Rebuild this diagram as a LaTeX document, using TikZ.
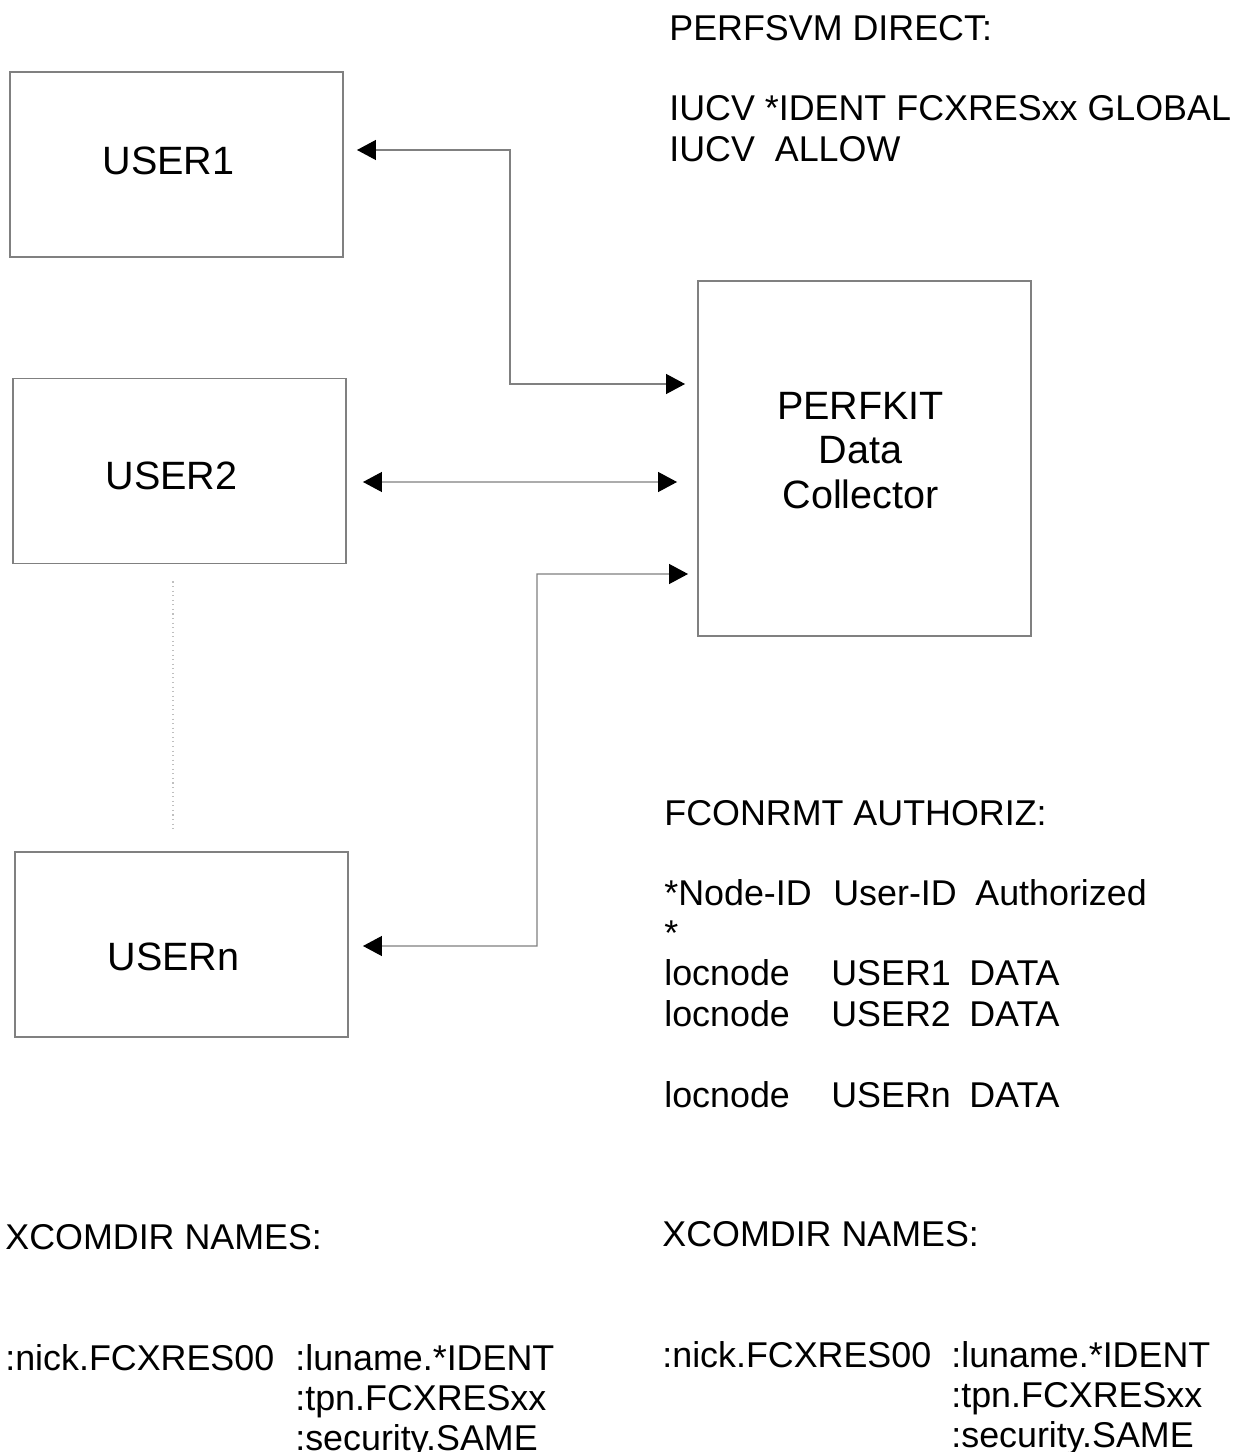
\documentclass[tikz,border=0pt]{standalone}
\usepackage{fontspec}
\setmainfont{Liberation Sans}
\usetikzlibrary{arrows.meta,calc,positioning}

\tikzset{
	userbox/.style={rectangle, draw=gray, line width=0.7pt, outer sep=0pt,
		minimum width=6.66cm, minimum height=3.7cm},
	boxlabel/.style={font=\fontsize{22.5}{25.5}\selectfont},
	txt/.style={anchor=base west, inner sep=0pt, font=\fontsize{20.4}{24}\selectfont},
	link/.style={draw=gray, line width=0.7pt,
		{Triangle[length=0.38cm,width=0.4cm,black]}-{Triangle[length=0.38cm,width=0.4cm,black]}}
}

\begin{document}
\begin{tikzpicture}[x=0.02cm, y=-0.02cm]
		\useasboundingbox (0,0) rectangle (1248,1452);

		% user boxes and the collector
		\node[userbox] (user1) at (176.5,164.5) {};
		\node[userbox] (user2) at (179.5,471) {};
		\node[userbox] (usern) at (181.5,944.5) {};
		\node[userbox, minimum height=7.1cm] (perfkit) at (864.5,458.5) {};
		\node[boxlabel] (l1) at ($(user1)+(-8,-4)$) {USER1};
		\node[boxlabel] (l2) at ($(user2)+(-8,5)$) {USER2};
		\node[boxlabel] (ln) at ($(usern)+(-8,12)$) {USERn};
		\node[boxlabel, align=center] (lk) at ($(perfkit)+(-4,-8)$) {PERFKIT\\Data\\Collector};

		\draw[dotted, gray!50, line width=0.6pt] ($(user2.south)+(-6.5,18)$) -- ($(usern.north)+(-8.5,-20)$);

		% connector ends
		\coordinate (t1a) at ($(user1.east)+(14,-14.5)$);
		\coordinate (t1b) at ($(perfkit.west)+(-13,-74.5)$);
		\coordinate (t2a) at ($(user2.east)+(17,11)$);
		\coordinate (t2b) at ($(perfkit.west)+(-21,23.5)$);
		\coordinate (t3a) at ($(usern.east)+(15,1.5)$);
		\coordinate (t3b) at ($(perfkit.west)+(-10,115.5)$);

		\draw[link] (t1a) -- (510,150) |- (t1b);
		\draw[link] (t2a) -- (t2b);
		\draw[link] (t3a) -- (537,946) |- (t3b);

		% PERFSVM directory
		\node[txt] (direct) at (669,41) {PERFSVM DIRECT:};
		\node[txt] (ident) at (669,121) {IUCV *IDENT FCXRESxx GLOBAL};
		\node[txt] (allow) at (669,162) {IUCV\ \ ALLOW};

		% FCONRMT AUTHORIZ
		\node[txt] (authoriz) at (664,825) {FCONRMT AUTHORIZ:};
		\node[txt] (hnode) at (664,905) {*Node-ID};
		\node[txt] (huser) at (833,905) {User-ID};
		\node[txt] (hauth) at (975,905) {Authorized};
		\node[txt] (star) at (664,945) {*};
		\foreach \y/\u [count=\i] in {985/USER1, 1026/USER2, 1107/USERn} {
			\node[txt] (loc\i) at (664,\y) {locnode};
			\node[txt] (uid\i) at (831,\y) {\u};
			\node[txt] (data\i) at (969,\y) {DATA};
		}

		% XCOMDIR NAMES, both sides
		\foreach \side/\x/\xx/\y in {l/5/295/1249, r/662/951/1246} {
			\node[txt] (xcom\side) at (\x,\y) {XCOMDIR NAMES:};
			\node[txt] (nick\side) at (\x,\y+121) {:nick.FCXRES00};
			\node[txt] (lun\side) at (\xx,\y+121) {:luname.*IDENT};
			\node[txt] (tpn\side) at (\xx,\y+161) {:tpn.FCXRESxx};
			\node[txt] (sec\side) at (\xx,\y+201) {:security.SAME};
		}
	\end{tikzpicture}
\end{document}
